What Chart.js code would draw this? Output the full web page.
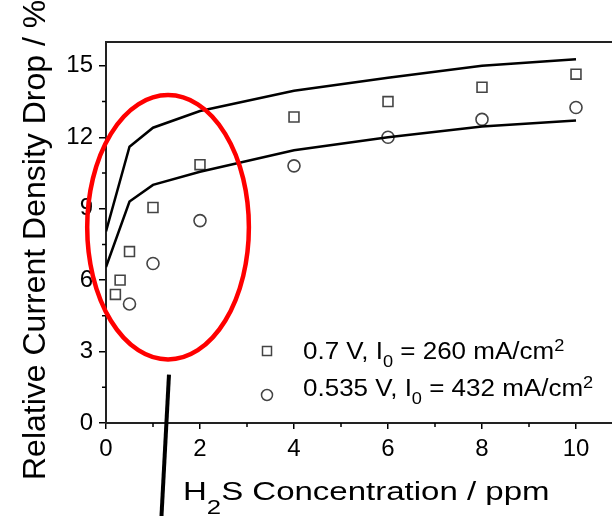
<!DOCTYPE html>
<html>
<head>
<meta charset="utf-8">
<title>H2S current density drop</title>
<script src="https://cdn.jsdelivr.net/npm/chart.js@4.4.0/dist/chart.umd.min.js"></script>
<style>
  html, body { margin: 0; padding: 0; background: #fff; overflow: hidden; }
  #wrap { width: 640px; height: 516px; }
</style>
</head>
<body>
<div id="wrap"><canvas id="chart" width="640" height="516"></canvas></div>
<script>
/* ---- data ---- */
// measured points, 0.7 V
const concSquare = [0.2, 0.3, 0.5, 1, 2, 4, 6, 8, 10];
const dropSquare = [5.4, 6.0, 7.2, 9.05, 10.85, 12.85, 13.5, 14.1, 14.65];
// measured points, 0.535 V
const concCircle = [0.5, 1, 2, 4, 6, 8, 10];
const dropCircle = [5.0, 6.7, 8.5, 10.8, 12.0, 12.75, 13.25];
// model curves
const concModel = [0, 0.5, 1, 2, 4, 6, 8, 10];
const dropModelHigh = [8.05, 11.6, 12.4, 13.1, 13.95, 14.5, 15.0, 15.28];
const dropModelLow  = [6.55, 9.3, 10.0, 10.55, 11.45, 12.0, 12.45, 12.7];

const xTicks = [0, 2, 4, 6, 8, 10];
const yTicks = [0, 3, 6, 9, 12, 15];
const xMinor = [1, 3, 5, 7, 9];
const yMinor = [1.5, 4.5, 7.5, 10.5, 13.5];

// highlight ellipse + pointer line (data units)
const ellipseCenter = [1.32, 8.22];
const ellipseRadius = [1.72, 5.55];
const pointerLine = [[1.34, 2.03], [1.17, -4.3]];

const FONT = '"Liberation Sans", Arial, Helvetica, sans-serif';

const legendItems = [
  { shape: 'square', runs: [{ t: '0.7 V, I' }, { t: '0', sub: true }, { t: ' = 260 mA/cm' }, { t: '2', sup: true }] },
  { shape: 'circle', runs: [{ t: '0.535 V, I' }, { t: '0', sub: true }, { t: ' = 432 mA/cm' }, { t: '2', sup: true }] }
];
const xTitleRuns = [{ t: 'H' }, { t: '2', sub: true }, { t: 'S Concentration / ppm' }];
const yTitle = 'Relative Current Density Drop / %';

function toXY(xs, ys) {
  return xs.map(function (x, i) { return { x: x, y: ys[i] }; });
}

/* texte avec indices / exposants */
function drawRuns(ctx, runs, x, y, size, sx, opt) {
  ctx.save();
  ctx.translate(x, y);
  ctx.scale(sx, 1);
  ctx.fillStyle = '#000';
  ctx.textBaseline = 'alphabetic';
  ctx.textAlign = 'left';
  let cx = 0;
  runs.forEach(function (r) {
    let fs = size, dy = 0;
    if (r.sub) { fs = size * opt.subSize; dy = size * opt.subShift; }
    if (r.sup) { fs = size * opt.supSize; dy = -size * opt.supShift; }
    ctx.font = fs + 'px ' + FONT;
    ctx.fillText(r.t, cx, dy);
    cx += ctx.measureText(r.t).width;
  });
  ctx.restore();
}

const decorations = {
  id: 'decorations',
  afterDraw: function (chart) {
    const ctx = chart.ctx;
    const area = chart.chartArea;
    const xs = chart.scales.x, ys = chart.scales.y;

    ctx.save();
    // top frame line
    ctx.strokeStyle = '#222';
    ctx.lineWidth = 2;
    ctx.beginPath();
    ctx.moveTo(area.left - 1, area.top);
    ctx.lineTo(area.right, area.top);
    ctx.stroke();

    // minor ticks
    ctx.lineWidth = 1.5;
    ctx.strokeStyle = '#000';
    ctx.beginPath();
    xMinor.forEach(function (v) {
      const px = xs.getPixelForValue(v);
      ctx.moveTo(px, area.bottom);
      ctx.lineTo(px, area.bottom + 4);
    });
    yMinor.forEach(function (v) {
      const py = ys.getPixelForValue(v);
      ctx.moveTo(area.left, py);
      ctx.lineTo(area.left - 4, py);
    });
    ctx.stroke();

    // x tick labels
    ctx.fillStyle = '#000';
    ctx.font = '24px ' + FONT;
    ctx.textAlign = 'center';
    ctx.textBaseline = 'alphabetic';
    xTicks.forEach(function (v) {
      ctx.fillText(String(v), xs.getPixelForValue(v), area.bottom + 33);
    });
    ctx.textAlign = 'left';

    // red ellipse
    const cx = xs.getPixelForValue(ellipseCenter[0]);
    const cy = ys.getPixelForValue(ellipseCenter[1]);
    const rx = xs.getPixelForValue(ellipseCenter[0] + ellipseRadius[0]) - cx;
    const ry = cy - ys.getPixelForValue(ellipseCenter[1] + ellipseRadius[1]);
    ctx.strokeStyle = '#ff0000';
    ctx.lineWidth = 4.5;
    ctx.beginPath();
    ctx.ellipse(cx, cy, rx, ry, 0, 0, Math.PI * 2);
    ctx.stroke();

    // black pointer
    ctx.strokeStyle = '#000';
    ctx.lineWidth = 4;
    ctx.beginPath();
    ctx.moveTo(xs.getPixelForValue(pointerLine[0][0]), ys.getPixelForValue(pointerLine[0][1]));
    ctx.lineTo(xs.getPixelForValue(pointerLine[1][0]), ys.getPixelForValue(pointerLine[1][1]));
    ctx.stroke();

    // legend
    legendItems.forEach(function (item, i) {
      const sy = i === 0 ? 351 : 395;
      ctx.strokeStyle = '#444';
      ctx.lineWidth = 1.5;
      ctx.fillStyle = '#fff';
      ctx.beginPath();
      if (item.shape === 'square') ctx.rect(262.5, sy - 4.5, 9, 9);
      else ctx.arc(267, sy, 5.5, 0, Math.PI * 2);
      ctx.fill();
      ctx.stroke();
      drawRuns(ctx, item.runs, 303, i === 0 ? 359 : 396, 23, 1.13,
        { subSize: 0.7, subShift: 0.33, supSize: 0.7, supShift: 0.36 });
    });

    // x title
    drawRuns(ctx, xTitleRuns, 183, 500, 25, 1.32,
      { subSize: 0.78, subShift: 0.56, supSize: 0.7, supShift: 0.36 });

    // y title
    ctx.translate(45, 480);
    ctx.rotate(-Math.PI / 2);
    ctx.font = '32px ' + FONT;
    ctx.fillStyle = '#000';
    ctx.textBaseline = 'alphabetic';
    ctx.fillText(yTitle, 0, 0);
    ctx.restore();
  }
};

new Chart(document.getElementById('chart'), {
  type: 'scatter',
  data: {
    datasets: [
      {
        label: 'model high',
        data: toXY(concModel, dropModelHigh),
        showLine: true,
        borderColor: '#000',
        borderWidth: 2.5,
        pointRadius: 0,
        fill: false
      },
      {
        label: 'model low',
        data: toXY(concModel, dropModelLow),
        showLine: true,
        borderColor: '#000',
        borderWidth: 2.5,
        pointRadius: 0,
        fill: false
      },
      {
        label: '0.7 V',
        data: toXY(concSquare, dropSquare),
        pointStyle: 'rect',
        pointRadius: 7,
        pointBorderWidth: 1.6,
        pointBorderColor: '#444',
        pointBackgroundColor: 'rgba(255,255,255,0)'
      },
      {
        label: '0.535 V',
        data: toXY(concCircle, dropCircle),
        pointStyle: 'circle',
        pointRadius: 6,
        pointBorderWidth: 1.6,
        pointBorderColor: '#444',
        pointBackgroundColor: '#fff'
      }
    ]
  },
  options: {
    responsive: false,
    animation: false,
    layout: { padding: { top: 42, right: 17, left: 0, bottom: 0 } },
    plugins: {
      legend: { display: false },
      tooltip: { enabled: false }
    },
    scales: {
      x: {
        type: 'linear',
        min: 0,
        max: 11,
        afterFit: function (s) { s.height = 93; },
        afterBuildTicks: function (s) { s.ticks = xTicks.map(v => ({ value: v })); },
        border: { display: true, color: '#222', width: 2 },
        grid: { display: true, drawOnChartArea: false, drawTicks: true, tickLength: 6, color: '#000', lineWidth: 1.5 },
        ticks: { display: false }
      },
      y: {
        min: 0,
        max: 16,
        afterFit: function (s) { s.width = 106; },
        afterBuildTicks: function (s) { s.ticks = yTicks.map(v => ({ value: v })); },
        border: { display: true, color: '#222', width: 2 },
        grid: { display: true, drawOnChartArea: false, drawTicks: true, tickLength: 7, color: '#000', lineWidth: 1.5 },
        ticks: { color: '#000', font: { family: FONT, size: 24 }, padding: 6 }
      }
    }
  },
  plugins: [decorations]
});
</script>
</body>
</html>
